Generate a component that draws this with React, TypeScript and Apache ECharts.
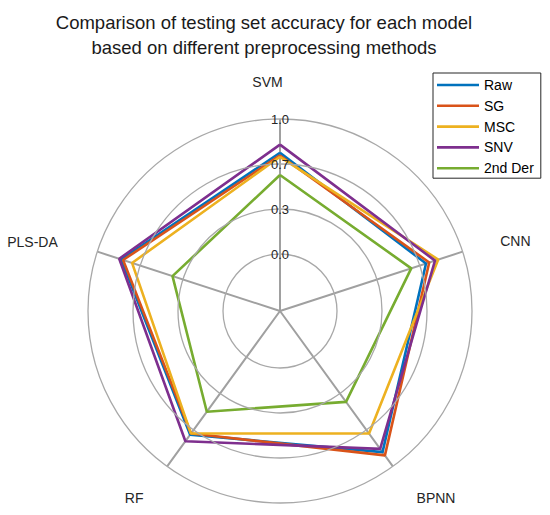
import React, { useEffect, useRef } from "react";
import * as echarts from "echarts";

const categories = ["SVM", "CNN", "BPNN", "RF", "PLS-DA"];
const seriesNames = ["Raw", "SG", "MSC", "SNV", "2nd Der"];
const rawValues = [0.75, 0.715, 0.87, 0.71, 0.815];
const sgValues = [0.73, 0.74, 0.9, 0.7, 0.8];
const mscValues = [0.72, 0.81, 0.7, 0.7, 0.73];
const snvValues = [0.81, 0.785, 0.84, 0.77, 0.83];
const derValues = [0.585, 0.6, 0.41, 0.5, 0.415];
const seriesValues = [rawValues, sgValues, mscValues, snvValues, derValues];
const colors = ["#0072BD", "#D95319", "#EDB120", "#7E2F8E", "#77AC30"];
const titleText = "Comparison of testing set accuracy for each model\nbased on different preprocessing methods";

const FONT = "'Liberation Sans', Arial, Helvetica, sans-serif";

// per-label padding [top, right, bottom, left] to fine-place the axis names
const labelPadding = [
  [0, 25, 22, 0],
  [0, 0, 1, 30],
  [18, 0, 0, 19],
  [18, 19, 0, 0],
  [0, 32, 0, 0],
];

export default function App() {
  const ref = useRef<HTMLDivElement>(null);
  useEffect(() => {
    if (!ref.current) return;
    const chart = echarts.init(ref.current, null, { renderer: "svg" });
    const step = 360 / categories.length;
    const series = seriesNames.map((name, si) => {
      const vals = seriesValues[si];
      const data = vals.map((v, i) => [v, i * step]);
      data.push([vals[0], 360]);
      return {
        name,
        type: "line",
        coordinateSystem: "polar",
        polarIndex: 0,
        data,
        symbol: "none",
        lineStyle: { color: colors[si], width: 2.6 },
        itemStyle: { color: colors[si] },
        silent: true,
        z: 2 + si,
      };
    });
    const rich: Record<string, any> = {};
    categories.forEach((_, i) => {
      rich["c" + i] = {
        fontFamily: FONT,
        fontSize: 14,
        color: "#262626",
        padding: labelPadding[i],
      };
    });
    chart.setOption({
      animation: false,
      textStyle: { fontFamily: FONT },
      title: {
        text: titleText,
        left: 264,
        top: 10,
        textAlign: "center",
        padding: 0,
        textStyle: {
          fontFamily: FONT,
          fontSize: 18.5,
          fontWeight: "normal",
          color: "#1a1a1a",
          lineHeight: 25,
        },
      },
      legend: {
        orient: "vertical",
        left: 433,
        top: 73,
        data: seriesNames.map((n) => ({ name: n, icon: "rect" })),
        itemWidth: 42,
        itemHeight: 2.6,
        itemGap: 6.8,
        itemTextGap: 4,
        padding: [5, 7, 3, 4],
        borderColor: "#262626",
        borderWidth: 1,
        borderRadius: 0,
        backgroundColor: "#ffffff",
        textStyle: { fontFamily: FONT, fontSize: 14, color: "#000", lineHeight: 14 },
      },
      polar: [
        { center: [280, 311], radius: [57, 192] },
        { center: [280, 311], radius: 192 },
      ],
      angleAxis: [
        {
          polarIndex: 0,
          type: "value",
          min: 0,
          max: 360,
          interval: step,
          startAngle: 90,
          clockwise: true,
          axisLine: { show: false },
          axisTick: { show: false },
          axisLabel: { show: false },
          splitLine: { show: false },
        },
        {
          polarIndex: 1,
          type: "value",
          min: 0,
          max: 360,
          interval: step,
          startAngle: 90,
          clockwise: true,
          axisLine: { show: false },
          axisTick: { show: false },
          splitLine: { show: true, lineStyle: { color: "#a0a0a0", width: 2 } },
          axisLabel: {
            margin: 8,
            fontFamily: FONT,
            fontSize: 14,
            color: "#262626",
            rich,
            formatter: (v: number) => {
              const idx = Math.round(v / step);
              return idx < categories.length ? "{c" + idx + "|" + categories[idx] + "}" : "";
            },
          },
        },
      ],
      radiusAxis: [
        {
          polarIndex: 0,
          type: "value",
          min: 0,
          max: 1,
          interval: 1 / 3,
          z: 10,
          axisLine: { show: false },
          axisTick: { show: false },
          splitLine: { show: true, lineStyle: { color: "#a8a8a8", width: 1.3 } },
          axisLabel: {
            margin: 0,
            align: "center",
            verticalAlign: "middle",
            fontFamily: FONT,
            fontSize: 13,
            color: "#262626",
            formatter: (v: number) => v.toFixed(1),
          },
        },
        {
          polarIndex: 1,
          type: "value",
          min: 0,
          max: 1,
          axisLine: { show: false },
          axisTick: { show: false },
          axisLabel: { show: false },
          splitLine: { show: false },
        },
      ],
      series,
    });
    return () => chart.dispose();
  }, []);
  return (
    <div
      ref={ref}
      style={{ position: "absolute", left: 0, top: 0, width: 550, height: 515, background: "#fff" }}
    />
  );
}
